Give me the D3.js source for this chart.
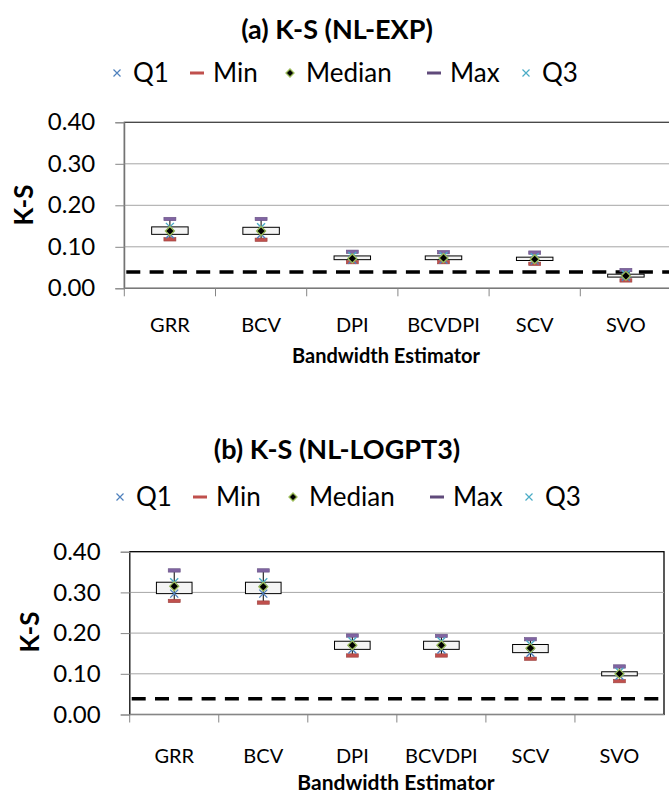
<!DOCTYPE html>
<html>
<head>
<meta charset="utf-8">
<script src="https://cdn.jsdelivr.net/npm/d3@7"></script>
<style>
  body { margin: 0; background: #fff; }
  text { font-family: Lato, "Open Sans", sans-serif; fill: #000; }
</style>
</head>
<body>
<div id="chart"></div>
<script>
// categories and box statistics
var estimators = ["GRR", "BCV", "DPI", "BCVDPI", "SCV", "SVO"];

var expMin = [0.118, 0.117, 0.063, 0.063, 0.059, 0.019];
var expQ1  = [0.130, 0.130, 0.069, 0.069, 0.067, 0.027];
var expMed = [0.138, 0.138, 0.072, 0.073, 0.070, 0.030];
var expQ3  = [0.148, 0.147, 0.078, 0.078, 0.075, 0.034];
var expMax = [0.167, 0.167, 0.088, 0.087, 0.086, 0.044];

var logMin = [0.279, 0.275, 0.145, 0.145, 0.137, 0.082];
var logQ1  = [0.297, 0.297, 0.160, 0.160, 0.152, 0.095];
var logMed = [0.315, 0.314, 0.170, 0.170, 0.163, 0.100];
var logQ3  = [0.325, 0.325, 0.180, 0.180, 0.172, 0.105];
var logMax = [0.354, 0.354, 0.194, 0.193, 0.185, 0.118];

var yTicks = [0, 0.1, 0.2, 0.3, 0.4];
var threshold = 0.039;
var legendNames = ["Q1", "Min", "Median", "Max", "Q3"];

var colors = {Q1: "#4f81bd", Min: "#c0504d", Median: "#9bbb59", Max: "#8064a2", Q3: "#4bacc6"};

var svg = d3.select("#chart").append("svg")
  .attr("width", 669).attr("height", 807);

function rows(mn, q1, md, q3, mx) {
  return estimators.map(function(c, i) {
    return {cat: c, min: mn[i], q1: q1[i], med: md[i], q3: q3[i], max: mx[i]};
  });
}

function xMark(g, x, y, r, col, w) {
  g.append("path")
    .attr("d", "M" + (x - r) + "," + (y - r) + "L" + (x + r) + "," + (y + r) +
               "M" + (x - r) + "," + (y + r) + "L" + (x + r) + "," + (y - r))
    .attr("stroke", col).attr("stroke-width", w).attr("fill", "none");
}

function diamond(g, x, y, r) {
  g.append("path")
    .attr("d", "M" + x + "," + (y - r) + "L" + (x + r) + "," + y + "L" + x + "," + (y + r) + "L" + (x - r) + "," + y + "Z")
    .attr("fill", "#000").attr("stroke", colors.Median).attr("stroke-width", 1.3);
}

function bar(g, x, y, w, col) {
  g.append("rect").attr("x", x - w / 2).attr("y", y - 1.7).attr("width", w).attr("height", 3.4)
    .attr("fill", col).attr("stroke", d3.color(col).darker(0.6)).attr("stroke-width", 0.6);
}

function drawPanel(p) {
  var data = rows(p.mn, p.q1, p.md, p.q3, p.mx);
  var x = d3.scaleBand().domain(estimators).range([p.left, p.right]);
  var y = d3.scaleLinear().domain([0, 0.4]).range([p.bottom, p.top]);
  var g = svg.append("g");

  // title
  g.append("text").attr("x", p.titleX).attr("y", p.titleY).attr("text-anchor", "middle")
    .style("font-size", "27px").style("font-weight", "bold").text(p.title);

  // legend
  var lg = g.append("g").attr("transform", "translate(0," + p.legendY + ")");
  var lx = [0, 80, 173, 317, 409];
  legendNames.forEach(function(n, i) {
    var mx = p.legX + lx[i];
    if (n == "Q1" || n == "Q3") xMark(lg, mx, 0, 3.5, colors[n], 1.2);
    else if (n == "Median") diamond(lg, mx, 0, 4);
    else lg.append("rect").attr("x", mx - 7).attr("y", -1.5).attr("width", 14).attr("height", 3).attr("fill", n == "Min" ? "#c0504d" : "#604a7b");
    lg.append("text").attr("x", mx + 16).attr("y", 0).attr("dy", "0.36em")
      .style("font-size", "26px").text(n);
  });

  // plot border
  g.append("rect").attr("x", p.left).attr("y", p.top)
    .attr("width", p.right - p.left).attr("height", p.bottom - p.top)
    .attr("fill", "none").attr("stroke", p.border).attr("stroke-width", 1.3);

  // gridlines
  g.selectAll(".grid").data(yTicks.filter(function(t) { return t > 0 && t < 0.4; }))
    .enter().append("line")
    .attr("x1", p.left).attr("x2", p.right)
    .attr("y1", function(d) { return y(d); }).attr("y2", function(d) { return y(d); })
    .attr("stroke", "#a6a6a6").attr("stroke-width", 1);

  // y axis
  var ya = g.append("g").attr("transform", "translate(" + p.left + ",0)")
    .call(d3.axisLeft(y).tickValues(yTicks).tickFormat(d3.format(".2f")).tickSize(9).tickPadding(20));
  ya.select(".domain").attr("stroke", "#868686");
  ya.selectAll(".tick line").attr("stroke", "#868686");
  ya.selectAll(".tick text").style("font-size", "24px").attr("fill", "#000").style("font-family", "Lato, sans-serif");

  // x axis
  var xa = g.append("g").attr("transform", "translate(0," + p.bottom + ")");
  xa.append("line").attr("x1", p.left).attr("x2", p.right).attr("stroke", "#868686");
  xa.selectAll(".xt").data(estimators).enter().append("line")
    .attr("x1", function(d) { return x(d); }).attr("x2", function(d) { return x(d); })
    .attr("y1", 0).attr("y2", 8).attr("stroke", "#868686");
  xa.selectAll(".xl").data(estimators).enter().append("text")
    .attr("x", function(d) { return x(d) + x.bandwidth() / 2; }).attr("y", p.catY)
    .attr("text-anchor", "middle").style("font-size", "20px").text(function(d) { return d; });

  g.append("text").attr("x", p.xTitleX).attr("y", p.xTitleY).attr("text-anchor", "middle")
    .style("font-size", p.xTitleSize).style("font-weight", "bold").text("Bandwidth Estimator");
  g.append("text").attr("transform", "translate(" + p.yTitleX + "," + p.yTitleY + ") rotate(-90)")
    .attr("text-anchor", "middle").style("font-size", "26px").style("font-weight", "bold").text("K-S");

  // threshold
  g.append("line").attr("x1", p.left + 2).attr("x2", p.right)
    .attr("y1", y(threshold)).attr("y2", y(threshold))
    .attr("stroke", "#000").attr("stroke-width", 3.5).attr("stroke-dasharray", "14,9.3");

  // boxes
  var bw = x.bandwidth() * 0.4;
  data.forEach(function(d) {
    var cx = x(d.cat) + x.bandwidth() / 2;
    g.append("line").attr("x1", cx).attr("x2", cx).attr("y1", y(d.max)).attr("y2", y(d.min))
      .attr("stroke", "#000").attr("stroke-width", 1);
    g.append("rect").attr("x", cx - bw / 2).attr("y", y(d.q3)).attr("width", bw)
      .attr("height", y(d.q1) - y(d.q3)).attr("fill", "#f4f4f4").attr("stroke", "#000").attr("stroke-width", 1);
    g.append("line").attr("x1", cx).attr("x2", cx).attr("y1", y(d.q3)).attr("y2", y(d.q1))
      .attr("stroke", "#000").attr("stroke-width", 1);
    bar(g, cx, y(d.max), 12, colors.Max);
    bar(g, cx, y(d.min), 12, colors.Min);
    xMark(g, cx, y(d.q1), 4, colors.Q1, 1.4);
    xMark(g, cx, y(d.q3), 4, colors.Q3, 1.4);
    diamond(g, cx, y(d.med), 4.5);
  });
}

drawPanel({
  title: "(a) K-S (NL-EXP)", titleX: 337, titleY: 39, legendY: 73, legX: 117,
  left: 124.3, right: 671.5, top: 122.3, bottom: 288.3, border: "#404040", catY: 44,
  mn: expMin, q1: expQ1, md: expMed, q3: expQ3, mx: expMax,
  xTitleX: 386, xTitleY: 363, xTitleSize: "20px", yTitleX: 33, yTitleY: 205
});

drawPanel({
  title: "(b) K-S (NL-LOGPT3)", titleX: 337, titleY: 459, legendY: 497, legX: 120,
  left: 129.7, right: 664, top: 551.7, bottom: 714.5, border: "#000", catY: 48,
  mn: logMin, q1: logQ1, md: logMed, q3: logQ3, mx: logMax,
  xTitleX: 396, xTitleY: 790, xTitleSize: "21px", yTitleX: 39, yTitleY: 632
});
</script>
</body>
</html>
